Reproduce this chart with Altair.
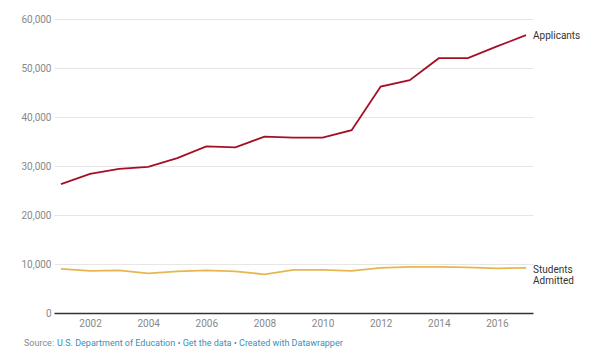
import altair as alt
import pandas as pd

years = list(range(2001, 2018))
applicants = [26300, 28400, 29400, 29800, 31600, 34000, 33800, 36000, 35800,
              35800, 37300, 46200, 47500, 52000, 52000, 54400, 56700]
admitted = [9000, 8600, 8700, 8100, 8500, 8700, 8500, 7900, 8800,
            8800, 8600, 9200, 9400, 9400, 9300, 9100, 9200]
series_names = ["Applicants", "Students Admitted"]
series_labels = ["Applicants", "Students\nAdmitted"]
series_colors = ["#a50f26", "#e8b651"]
x_ticks = [2002, 2004, 2006, 2008, 2010, 2012, 2014, 2016]
y_ticks = [0, 10000, 20000, 30000, 40000, 50000, 60000]

rows = []
for s, vals in zip(series_names, [applicants, admitted]):
    for yr, v in zip(years, vals):
        rows.append({"year": yr, "value": v, "series": s})
df = pd.DataFrame(rows)

end_df = pd.DataFrame({
    "year": [years[-1], years[-1]],
    "value": [applicants[-1], admitted[-1]],
    "series": series_names,
    "label": series_labels,
})

FONT = "Roboto"

x_enc = alt.X("year:Q", scale=alt.Scale(domain=[2000.76, 2017.24], nice=False, zero=False),
              axis=alt.Axis(values=x_ticks, format=".0f", title=None, grid=False, ticks=False,
                            domain=False, labelColor="#888888", labelFontSize=10,
                            labelFont=FONT, labelPadding=5))
y_enc = alt.Y("value:Q", scale=alt.Scale(domain=[0, 60000], nice=False),
              axis=alt.Axis(values=y_ticks, format=",.0f", title=None, grid=True,
                            gridColor=alt.expr("datum.value === 0 ? '#333333' : '#e6e6e6'"),
                            gridWidth=alt.expr("datum.value === 0 ? 1.5 : 1"),
                            ticks=False, domain=False,
                            labelColor="#888888", labelFontSize=10, labelFont=FONT,
                            labelPadding=3))
color_enc = alt.Color("series:N", scale=alt.Scale(domain=series_names, range=series_colors),
                      legend=None)

lines = alt.Chart(df).mark_line(strokeWidth=1.8).encode(x=x_enc, y=y_enc, color=color_enc)

app_label = alt.Chart(end_df[end_df.series == "Applicants"]).mark_text(
    align="left", baseline="middle", dx=7, dy=1, font=FONT, fontSize=10, color="#333333"
).encode(x=x_enc, y=y_enc, text="label:N")

adm_label = alt.Chart(end_df[end_df.series == "Students Admitted"]).mark_text(
    align="left", baseline="top", dx=7, dy=-3, font=FONT, fontSize=10, color="#333333",
    lineBreak="\n", lineHeight=11
).encode(x=x_enc, y=y_enc, text="label:N")

src1 = alt.Chart(pd.DataFrame({"t": ["Source:"]})).mark_text(
    align="left", baseline="middle", font=FONT, fontSize=9, color="#888888"
).encode(x=alt.value(-30), y=alt.value(324), text="t:N")
src2 = alt.Chart(pd.DataFrame({"t": ["U.S. Department of Education \u2022 Get the data \u2022 Created with Datawrapper"]})).mark_text(
    align="left", baseline="middle", font=FONT, fontSize=9, color="#3d8eb9"
).encode(x=alt.value(3), y=alt.value(324), text="t:N")

chart = alt.layer(lines, app_label, adm_label, src1, src2).properties(
    width=479, height=294,
    autosize=alt.AutoSizeParams(type="none"),
    padding={"left": 46, "top": 11, "right": 59, "bottom": 35},
).configure(background="white").configure_view(strokeWidth=0).configure_axis(domain=False, ticks=False)

chart.save("out.html", embed_options={"renderer": "svg", "actions": False})
